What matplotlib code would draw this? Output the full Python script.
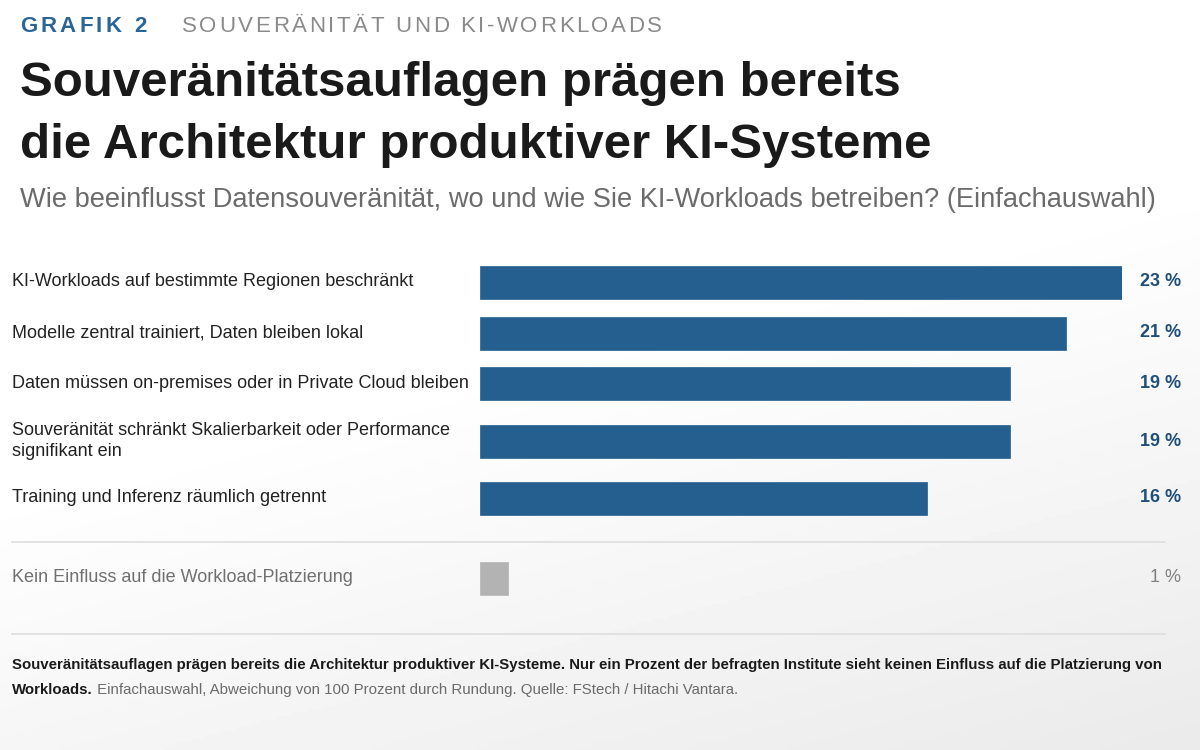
import matplotlib
matplotlib.use("Agg")
import matplotlib.pyplot as plt
import numpy as np

# data
categories = [
    "KI-Workloads auf bestimmte Regionen beschränkt",
    "Modelle zentral trainiert, Daten bleiben lokal",
    "Daten müssen on-premises oder in Private Cloud bleiben",
    "Souveränität schränkt Skalierbarkeit oder Performance\nsignifikant ein",
    "Training und Inferenz räumlich getrennt",
]
values = [23, 21, 19, 19, 16]
other_label = "Kein Einfluss auf die Workload-Platzierung"
other_value = 1

kicker = "GRAFIK 2"
kicker_topic = "SOUVERÄNITÄT UND KI-WORKLOADS"
title_lines = ["Souveränitätsauflagen prägen bereits",
               "die Architektur produktiver KI-Systeme"]
subtitle = "Wie beeinflusst Datensouveränität, wo und wie Sie KI-Workloads betreiben? (Einfachauswahl)"
note_bold = ("Souveränitätsauflagen prägen bereits die Architektur produktiver KI-Systeme. "
             "Nur ein Prozent der befragten Institute sieht keinen Einfluss auf die Platzierung von")
note_bold2 = "Workloads."
note_rest = " Einfachauswahl, Abweichung von 100 Prozent durch Rundung. Quelle: FStech / Hitachi Vantara."

BLUE = "#245f8f"
VALBLUE = "#1f4f7a"
GRAY = "#b3b3b3"
W, H = 1200, 750

plt.rcParams['font.family'] = ['Liberation Sans', 'DejaVu Sans']

fig = plt.figure(figsize=(12, 7.5), dpi=100)
renderer = fig.canvas.get_renderer()

# soft background gradient (white top, light grey bottom-right)
bg = fig.add_axes([0, 0, 1, 1], zorder=-10)
yy, xx = np.mgrid[0:1:200j, 0:1:320j]
shade = np.clip((yy - 0.45) * 1.2 + (xx - 0.5) * 0.5, 0, 1) * 0.09
bg.imshow(1 - shade, cmap="gray", vmin=0, vmax=1, aspect="auto", extent=[0, 1, 0, 1])
bg.axis("off")


def fx(px):
    return px / W


def fy(py):
    return 1 - py / H


def tracked(x, y, s, track, **kw):
    # letter-spaced text, drawn char by char
    for ch in s:
        t = fig.text(fx(x), fy(y), ch, **kw)
        w = t.get_window_extent(renderer).width
        if ch == " ":
            w = kw.get("fontsize", 12) * 0.28 * 100 / 72
        x += w + track
    return x


# header
tracked(20, 32, kicker, 3.2, fontsize=16, fontweight="bold", color="#2b6496", va="baseline")
tracked(182, 32, kicker_topic, 2.6, fontsize=16, color="#8a8a8a", va="baseline")
fig.text(fx(20), fy(96), title_lines[0], fontsize=35.5, fontweight="bold", color="#1a1a1a", va="baseline")
fig.text(fx(20), fy(158), title_lines[1], fontsize=35.5, fontweight="bold", color="#1a1a1a", va="baseline")
fig.text(fx(20), fy(207), subtitle, fontsize=19.6, color="#6b6b6b", va="baseline")

# bar axes: x from 480px to 1122px  = 0..23 %
top, bottom = 250, 610
ax = fig.add_axes([fx(480), fy(bottom), fx(1122) - fx(480), (bottom - top) / H])
ax.set_xlim(0, max(values))
ax.set_ylim(bottom, top)
ax.axis("off")

ypos = [282, 333, 383, 441, 498]
y_other = 578
bar_h = 33

ax.barh(ypos, values, height=bar_h, color=BLUE, edgecolor=BLUE, linewidth=0.5)
ax.barh([y_other], [other_value], height=bar_h, color=GRAY, edgecolor=GRAY, linewidth=0.5)

for cat, val, y in zip(categories, values, ypos):
    fig.text(fx(12), fy(y), cat, fontsize=13, color="#222222", va="center", linespacing=1.25)
    fig.text(fx(1181), fy(y), f"{val} %", fontsize=13, fontweight="bold",
             color=VALBLUE, va="center", ha="right")

fig.text(fx(12), fy(y_other), other_label, fontsize=13, color="#707070", va="center")
fig.text(fx(1181), fy(y_other), f"{other_value} %", fontsize=13, color="#808080",
         va="center", ha="right")

# separators
for ly in (542, 634):
    fig.add_artist(plt.Line2D([fx(12), fx(1165)], [fy(ly), fy(ly)], color="#dedede", lw=1.2))

# footnote
fig.text(fx(12), fy(665), note_bold, fontsize=10.8, fontweight="bold", color="#1a1a1a", va="center")
t = fig.text(fx(12), fy(690), note_bold2, fontsize=10.8, fontweight="bold", color="#1a1a1a", va="center")
bb = t.get_window_extent(renderer)
fig.text(bb.x1 / W, fy(690), note_rest, fontsize=10.8, color="#6b6b6b", va="center")

fig.savefig("out.png", dpi=100)
